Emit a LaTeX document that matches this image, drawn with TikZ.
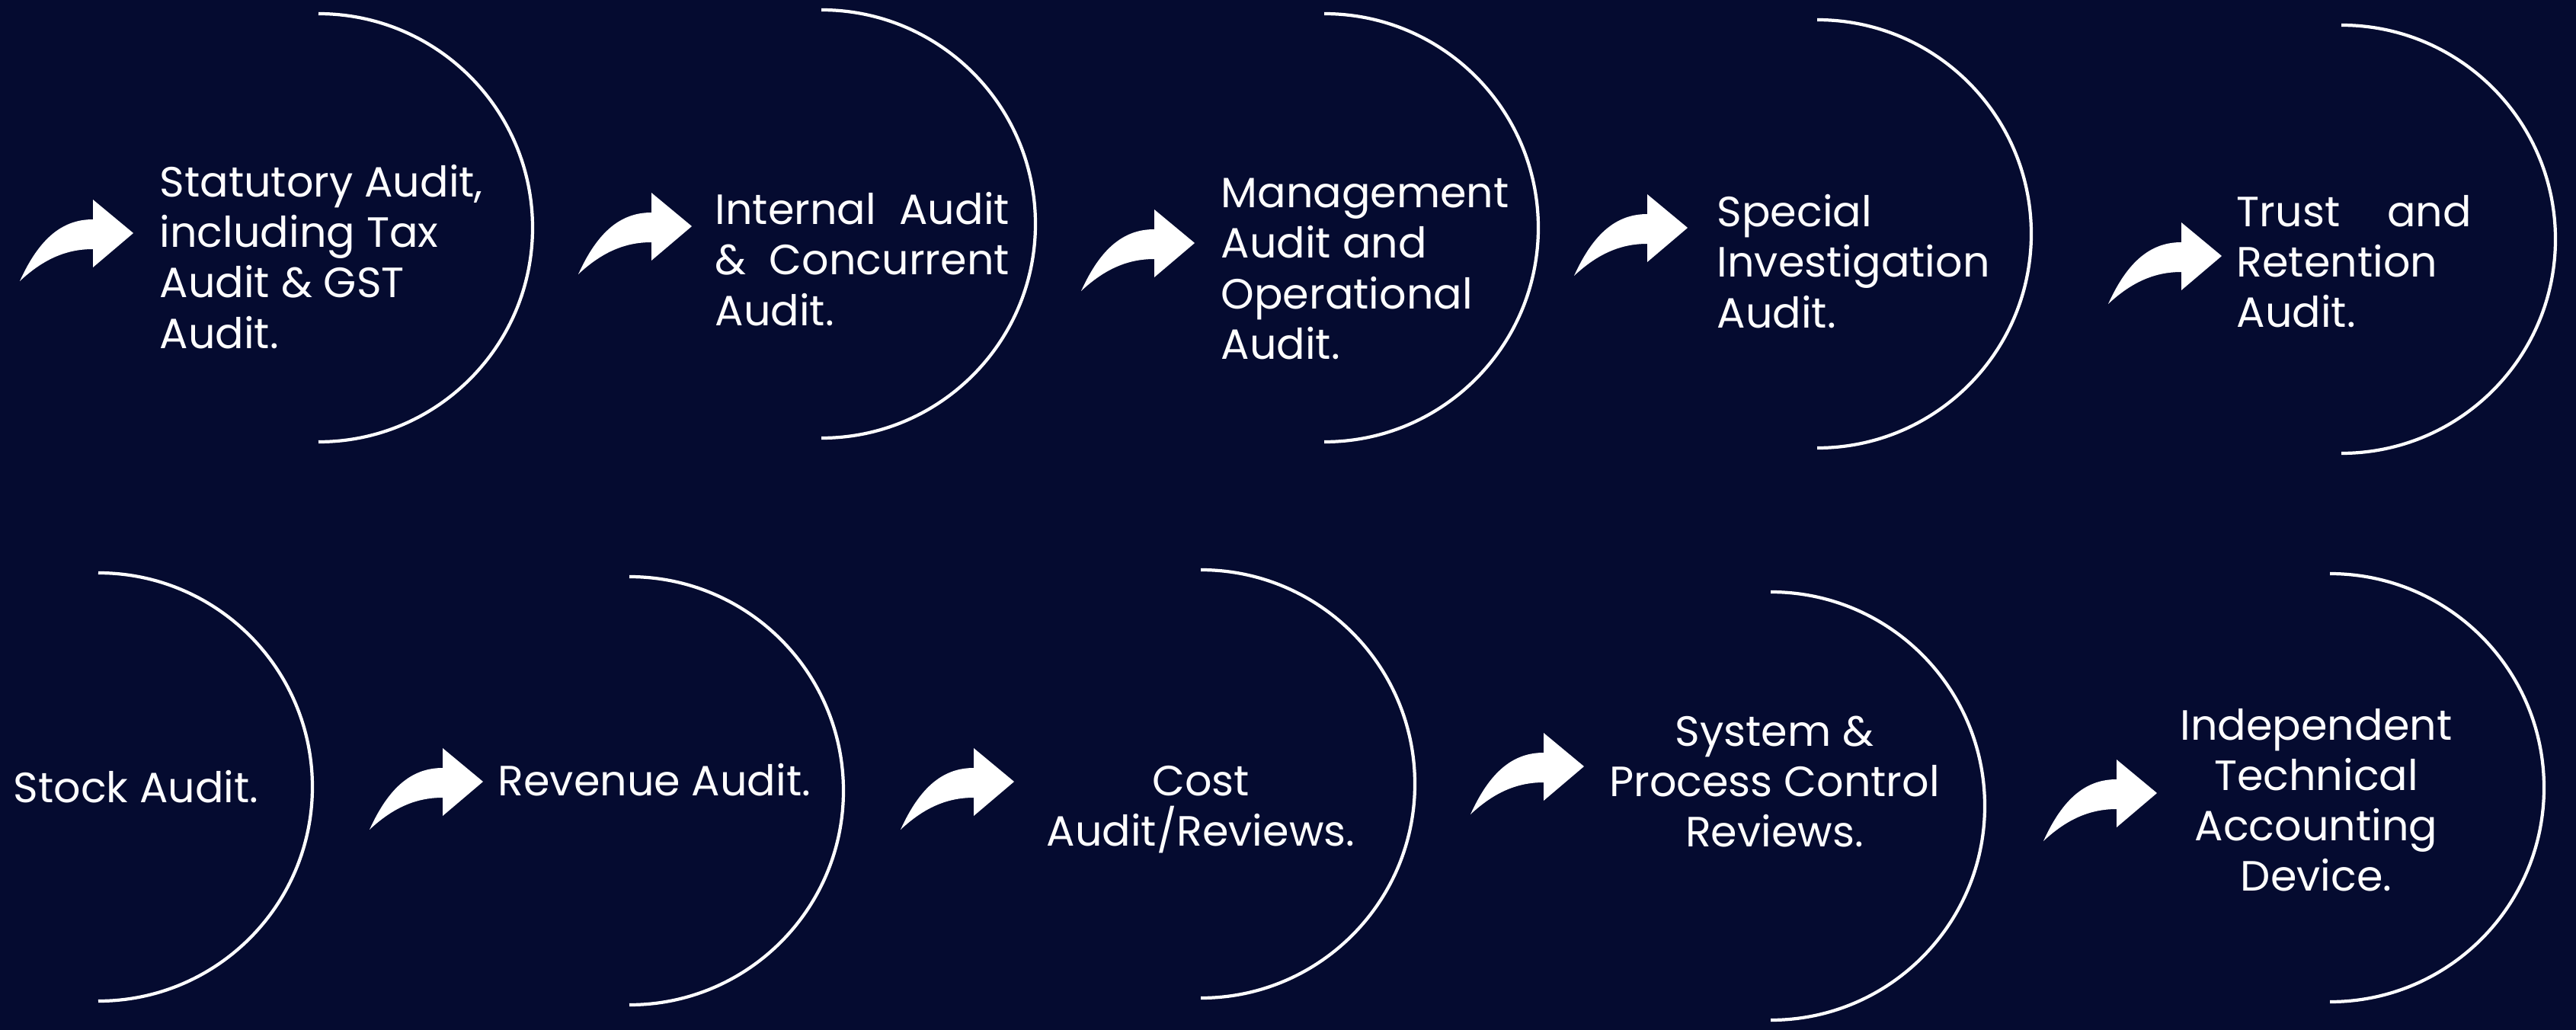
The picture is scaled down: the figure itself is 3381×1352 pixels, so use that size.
\documentclass[tikz,border=0pt]{standalone}
\usepackage{fontspec}
\setmainfont{Poppins}
\usetikzlibrary{positioning}
\definecolor{navy}{HTML}{050B30}

\begin{document}
\begin{tikzpicture}[x=0.01cm, y=-0.01cm,
        ring/.style={white, line width=1.2pt},
        lbl/.style={text=white, inner sep=0pt, font=\fontsize{15.8}{18.8}\selectfont},
        pics/bend/.style={code={
            \fill[white] (0,0) .. controls (25,-55) and (55,-81) .. (96,-81) -- (96,-107) -- (149,-63)
                -- (96,-18) -- (96,-42) .. controls (60,-42) and (30,-28) .. (0,0) -- cycle;}}]
        % background
        \fill[navy] (0,0) rectangle (3381,1352);
        % half rings
        \foreach \cx/\cy in {418/299, 1078/294, 1738/299, 2385/307, 3073/314,
                             129/1033, 826/1038, 1576/1029, 2324/1058, 3058/1034}
            \draw[ring] (\cx,\cy-281) arc (-90:90:281);
        % curved arrows
        \foreach \ax/\ay in {26/369, 759/360, 1419/382, 2066/362, 2767/399,
                             485/1089, 1182/1089, 1930/1069, 2682/1104}
            \pic at (\ax,\ay) {bend};
        % top row
        \node[lbl, anchor=west, align=left] (statutory) at (209,337) {Statutory Audit,\\including Tax\\Audit \& GST\\Audit.};
        \node[lbl, anchor=west, align=left, text width=3.86cm] (internal) at (938,340) {Internal\hfill Audit\\\&\hfill Concurrent\\Audit.};
        \node[lbl, anchor=west, align=left] (management) at (1602,353) {Management\\Audit and\\Operational\\Audit.};
        \node[lbl, anchor=west, align=left] (special) at (2253,343) {Special\\Investigation\\Audit.};
        \node[lbl, anchor=west, align=left, text width=3.08cm] (trust) at (2935,343) {Trust\hfill and\\Retention\\Audit.};
        % bottom row
        \node[lbl, anchor=west] (stock) at (17,1033) {Stock Audit.};
        \node[lbl, anchor=west] (revenue) at (653,1024) {Revenue Audit.};
        \node[lbl, align=center] (cost) at (1576,1063) {Cost\\Audit/Reviews.};
        \node[lbl, align=center] (system) at (2329,1026) {System \&\\Process Control\\Reviews.};
        \node[lbl, align=center] (independent) at (3040,1050) {Independent\\Technical\\Accounting\\Device.};
\end{tikzpicture}
\end{document}
